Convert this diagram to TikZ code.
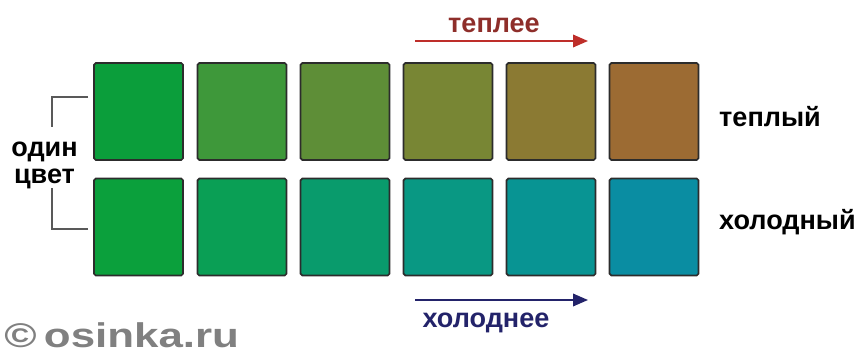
\documentclass[tikz,border=0pt]{standalone}
\usepackage{fontspec}
\setmainfont{Liberation Sans}
\usetikzlibrary{arrows.meta}
\definecolor{warmA}{HTML}{0B9E3B}
\definecolor{warmB}{HTML}{3E983A}
\definecolor{warmC}{HTML}{5E8E37}
\definecolor{warmD}{HTML}{788634}
\definecolor{warmE}{HTML}{8B7A33}
\definecolor{warmF}{HTML}{9C6B33}
\definecolor{coolA}{HTML}{0BA03C}
\definecolor{coolB}{HTML}{0A9F55}
\definecolor{coolC}{HTML}{099B6C}
\definecolor{coolD}{HTML}{099883}
\definecolor{coolE}{HTML}{089493}
\definecolor{coolF}{HTML}{0A8DA2}
\definecolor{warmred}{HTML}{BE2E2A}
\definecolor{warmtext}{HTML}{8E2E2A}
\definecolor{coolnavy}{HTML}{23236A}
\definecolor{edgegray}{HTML}{2C2C2C}

\begin{document}
\begin{tikzpicture}[every node/.style={align=center},
  swatch/.style={draw=edgegray, line width=1pt, rounded corners=1pt,
    minimum width=1.78cm, minimum height=1.94cm, inner sep=0pt},
  lbl/.style={font=\fontsize{15.4}{15.4}\selectfont\bfseries},
  bracket/.style={draw=black!65, line width=0.85pt},
  trend/.style={line width=1.1pt, -{Triangle[length=0.3cm, width=0.25cm]}}]

  \useasboundingbox (0,0) rectangle (17.08,-7.1);

  % ── Warm row ──────────────────────────────────────────────────
  \node[swatch, fill=warmA] (t1) at (2.77,-2.23) {};
  \node[swatch, fill=warmB] (t2) at (4.84,-2.23) {};
  \node[swatch, fill=warmC] (t3) at (6.90,-2.23) {};
  \node[swatch, fill=warmD] (t4) at (8.96,-2.23) {};
  \node[swatch, fill=warmE] (t5) at (11.02,-2.23) {};
  \node[swatch, fill=warmF] (t6) at (13.08,-2.23) {};
  \node[lbl, anchor=west] (warm) at (14.26,-2.34) {теплый};

  % ── Cool row ──────────────────────────────────────────────────
  \node[swatch, fill=coolA] (c1) at (2.77,-4.54) {};
  \node[swatch, fill=coolB] (c2) at (4.84,-4.54) {};
  \node[swatch, fill=coolC] (c3) at (6.90,-4.54) {};
  \node[swatch, fill=coolD] (c4) at (8.96,-4.54) {};
  \node[swatch, fill=coolE] (c5) at (11.02,-4.54) {};
  \node[swatch, fill=coolF] (c6) at (13.08,-4.54) {};
  \node[lbl, anchor=west] (cool) at (14.26,-4.44) {холодный};

  % ── Trend arrows ──────────────────────────────────────────────
  \coordinate (wfrom) at (8.3,-0.82);
  \coordinate (wto) at (11.76,-0.82);
  \draw[trend, warmred] (wfrom) -- (wto);
  \node[lbl, text=warmtext] (warmer) at (9.88,-0.5) {теплее};

  \coordinate (cfrom) at (8.3,-6.0);
  \coordinate (cto) at (11.76,-6.0);
  \draw[trend, coolnavy] (cfrom) -- (cto);
  \node[lbl, text=coolnavy] (cooler) at (9.72,-6.46) {холоднее};

  % ── Same hue bracket ──────────────────────────────────────────
  \node[lbl] (hue) at (0.89,-3.3) {один\\цвет};
  \coordinate (brtop) at (1.76,-1.94);
  \coordinate (brtopend) at (1.04,-2.54);
  \coordinate (brbot) at (1.76,-4.58);
  \coordinate (brbotend) at (1.04,-3.76);
  \draw[bracket] (brtop) -| (brtopend);
  \draw[bracket] (brbot) -| (brbotend);

  % ── Watermark ─────────────────────────────────────────────────
  \node[anchor=west, inner sep=0pt, text=black!50, font=\fontsize{19.5}{19.5}\selectfont\bfseries] (mark)
    at (0.08,-6.7) {\scalebox{1.28}[1]{©\,osinka.ru}};

\end{tikzpicture}
\end{document}
